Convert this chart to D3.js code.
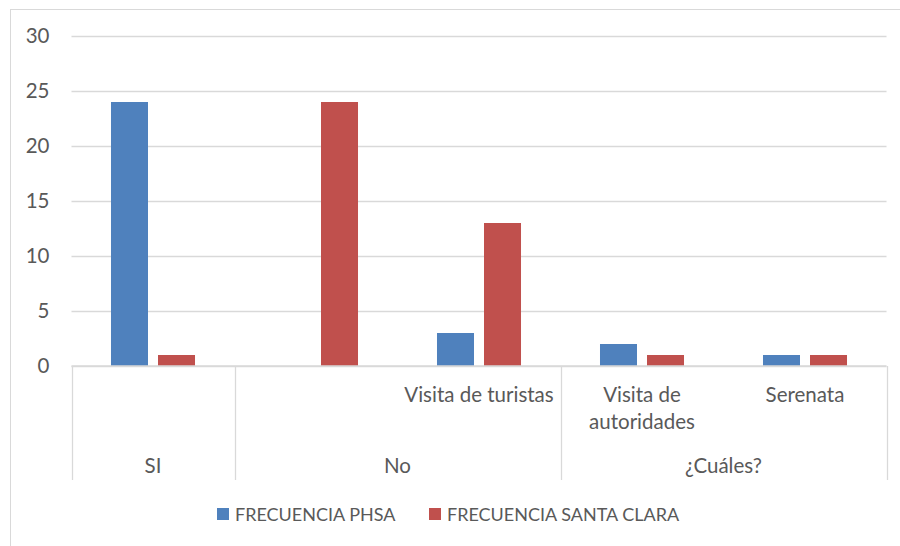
<!DOCTYPE html>
<html>
<head>
<meta charset="utf-8">
<script src="https://cdn.jsdelivr.net/npm/d3@7"></script>
<style>
  body { margin: 0; background: #fff; }
  svg { display: block; font-family: Lato, "Open Sans", sans-serif; }
</style>
</head>
<body>
<div id="chart"></div>
<script>
// data
const groups = ["SI", "No", "¿Cuáles?"];
const categories = ["si", "no", "turistas", "autoridades", "serenata"];
const categoryGroup = ["SI", "No", "No", "¿Cuáles?", "¿Cuáles?"];
const categoryLabels = [[], [], ["Visita de turistas"], ["Visita de", "autoridades"], ["Serenata"]];
const seriesNames = ["FRECUENCIA PHSA", "FRECUENCIA SANTA CLARA"];
const phsa = [24, 0, 3, 2, 1];
const santaClara = [1, 24, 13, 1, 1];
const yTicks = [0, 5, 10, 15, 20, 25, 30];

const width = 900, height = 546;
const margin = {top: 36, right: 13.5, bottom: 180, left: 71.5};
const colors = ["#4F81BD", "#C0504D"];
const textColor = "#595959", gridColor = "#D9D9D9";
const fontSize = 20.5;
const legendFontSize = 18;

const svg = d3.select("#chart").append("svg")
  .attr("width", width)
  .attr("height", height);

// outer chart border (runs off the right/bottom of the picture)
svg.append("rect")
  .attr("x", 10.5).attr("y", 9.5)
  .attr("width", width).attr("height", height)
  .attr("fill", "none")
  .attr("stroke", gridColor);

const x0 = d3.scaleBand()
  .domain(categories)
  .range([margin.left, width - margin.right]);

const x1 = d3.scaleBand()
  .domain(seriesNames)
  .range([0, x0.bandwidth()])
  .paddingInner(0.213)
  .paddingOuter(0.84);

const y = d3.scaleLinear()
  .domain([0, 30])
  .range([height - margin.bottom, margin.top]);

// gridlines + y labels
const yAxis = svg.append("g")
  .attr("transform", `translate(${margin.left},0)`)
  .call(d3.axisLeft(y).tickValues(yTicks).tickSize(-(width - margin.left - margin.right)).tickPadding(22));
yAxis.select(".domain").remove();
yAxis.selectAll(".tick line").attr("stroke", gridColor).attr("stroke-width", 1.3);
yAxis.selectAll(".tick text")
  .attr("fill", textColor)
  .style("font-size", fontSize + "px")
  .style("font-family", "Lato, sans-serif");

// bars
const rows = categories.map((c, i) => ({cat: c, values: [phsa[i], santaClara[i]]}));
const barG = svg.selectAll("g.cat")
  .data(rows)
  .enter()
  .append("g")
    .attr("class", "cat")
    .attr("transform", d => `translate(${x0(d.cat)},0)`);

barG.selectAll("rect")
  .data(d => d.values.map((v, j) => ({series: seriesNames[j], value: v, j})))
  .enter()
  .append("rect")
    .attr("x", d => x1(d.series))
    .attr("y", d => y(d.value))
    .attr("width", x1.bandwidth())
    .attr("height", d => y(0) - y(d.value))
    .attr("fill", d => colors[d.j]);

// multi-level category axis
const axisTop = y(0), axisBottom = 480;
const axisG = svg.append("g");
axisG.append("line")
  .attr("x1", x0.range()[0]).attr("x2", x0.range()[1])
  .attr("y1", axisTop).attr("y2", axisTop)
  .attr("stroke", gridColor).attr("stroke-width", 1.3);

const groupSpans = groups.map(g => {
  const idx = categories.filter((c, i) => categoryGroup[i] === g);
  const x0s = idx.map(c => x0(c));
  return {name: g, start: d3.min(x0s), end: d3.max(x0s) + x0.bandwidth()};
});

const bounds = [groupSpans[0].start].concat(groupSpans.map(s => s.end));
axisG.selectAll("line.sep")
  .data(bounds)
  .enter()
  .append("line")
    .attr("class", "sep")
    .attr("x1", d => Math.round(d) + 0.5).attr("x2", d => Math.round(d) + 0.5)
    .attr("y1", axisTop).attr("y2", axisBottom)
    .attr("stroke", gridColor).attr("stroke-width", 1.3);

categories.forEach((c, i) => {
  const t = axisG.append("text")
    .attr("x", x0(c) + x0.bandwidth() / 2)
    .attr("y", 402)
    .attr("text-anchor", "middle")
    .attr("fill", textColor)
    .style("font-size", fontSize + "px");
  categoryLabels[i].forEach((line, k) => {
    t.append("tspan")
      .attr("x", x0(c) + x0.bandwidth() / 2)
      .attr("dy", k === 0 ? 0 : 27)
      .text(line);
  });
});

axisG.selectAll("text.group")
  .data(groupSpans)
  .enter()
  .append("text")
    .attr("class", "group")
    .attr("x", d => (d.start + d.end) / 2)
    .attr("y", 473)
    .attr("text-anchor", "middle")
    .attr("fill", textColor)
    .style("font-size", fontSize + "px")
    .text(d => d.name);

// legend
const legendX = [217, 429];
const legend = svg.selectAll("g.legend")
  .data(seriesNames)
  .enter()
  .append("g")
    .attr("class", "legend")
    .attr("transform", (d, i) => `translate(${legendX[i]},508)`);
legend.append("rect")
  .attr("width", 12).attr("height", 12)
  .attr("fill", (d, i) => colors[i]);
legend.append("text")
  .attr("x", 18).attr("y", 12.5)
  .attr("fill", textColor)
  .style("font-size", legendFontSize + "px")
  .text(d => d);
</script>
</body>
</html>
